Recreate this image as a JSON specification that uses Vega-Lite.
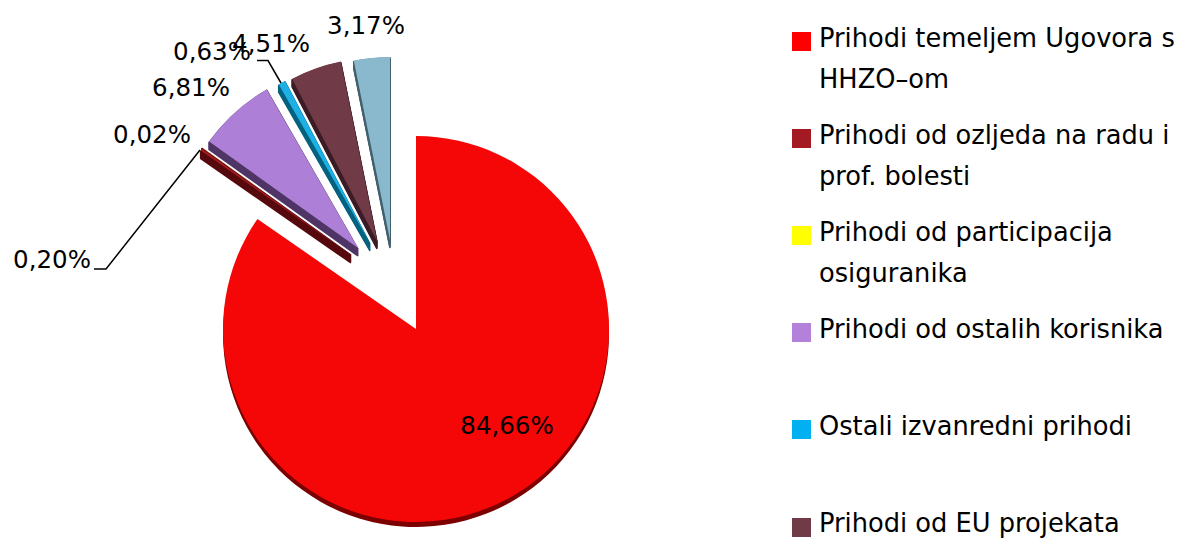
{
 "$schema":"https://vega.github.io/schema/vega-lite/v6.json",
 "width":1182,"height":539,"padding":0,"autosize":{"type":"none"},
 "background":"white","view":{"stroke":null},
 "datasets":{
  "slices":[
   {"slice":"Prihodi temeljem Ugovora s HHZO-om","order":1,"pct":84.66,"label":"84,66%","cx":416,"cy":329,"lx":507,"ly":427},
   {"slice":"Prihodi od ozljeda na radu i prof. bolesti","order":2,"pct":0.20,"label":"0,20%","cx":351,"cy":255,"lx":52,"ly":261},
   {"slice":"Prihodi od participacija osiguranika","order":3,"pct":0.02,"label":"0,02%","cx":351,"cy":254,"lx":152,"ly":136},
   {"slice":"Prihodi od ostalih korisnika","order":4,"pct":6.81,"label":"6,81%","cx":358,"cy":248,"lx":191,"ly":89},
   {"slice":"Ostali izvanredni prihodi","order":5,"pct":0.63,"label":"0,63%","cx":370,"cy":243,"lx":212,"ly":53},
   {"slice":"Prihodi od EU projekata","order":6,"pct":4.51,"label":"4,51%","cx":377,"cy":241,"lx":271,"ly":45},
   {"slice":"Ostali prihodi","order":7,"pct":3.17,"label":"3,17%","cx":390,"cy":240,"lx":366,"ly":27}
  ],
  "legend":[
   {"slice":"Prihodi temeljem Ugovora s HHZO-om","text":"Prihodi temeljem Ugovora s\nHHZO–om","row":0},
   {"slice":"Prihodi od ozljeda na radu i prof. bolesti","text":"Prihodi od ozljeda na radu i\nprof. bolesti","row":1},
   {"slice":"Prihodi od participacija osiguranika","text":"Prihodi od participacija\nosiguranika","row":2},
   {"slice":"Prihodi od ostalih korisnika","text":"Prihodi od ostalih korisnika","row":3},
   {"slice":"Ostali izvanredni prihodi","text":"Ostali izvanredni prihodi","row":4},
   {"slice":"Prihodi od EU projekata","text":"Prihodi od EU projekata","row":5}
  ],
  "leaders":[
   {"id":"a","step":1,"x":94,"y":269},{"id":"a","step":2,"x":106,"y":269},{"id":"a","step":3,"x":200,"y":150},
   {"id":"b","step":1,"x":257,"y":60.5},{"id":"b","step":2,"x":268,"y":60.5},{"id":"b","step":3,"x":281,"y":83}
  ]
 },
 "layer":[
  {
   "data":{"name":"slices"},
   "transform":[{"stack":"pct","sort":[{"field":"order","order":"ascending"}],"as":["a0","a1"]},{"filter":"datum.order>1"},
     {"calculate":"[1,2,3,4,5,6,7,8]","as":"d"},{"flatten":["d"]},{"calculate":"datum.cy+datum.d","as":"cyd"}],
   "mark":{"type":"arc","outerRadius":183,"strokeWidth":1.5},
   "encoding":{
    "x":{"field":"cx","type":"quantitative","scale":{"domain":[0,1182],"range":[0,1182],"nice":false,"zero":false},"axis":null},
    "y":{"field":"cyd","type":"quantitative","scale":{"domain":[0,539],"range":[0,539],"nice":false,"zero":false},"axis":null},
    "theta":{"field":"a0","type":"quantitative","scale":{"domain":[0,100]},"stack":null},
    "theta2":{"field":"a1"},
    "color":{"field":"slice","type":"nominal","legend":null,"scale":{
      "domain":["Prihodi od ozljeda na radu i prof. bolesti","Prihodi od participacija osiguranika","Prihodi od ostalih korisnika","Ostali izvanredni prihodi","Prihodi od EU projekata","Ostali prihodi"],
      "range":["#570a0e","#570a0e","#4f3566","#05627f","#3b1c26","#42606d"]}},
    "stroke":{"field":"slice","type":"nominal","legend":null,"scale":{
      "domain":["Prihodi od ozljeda na radu i prof. bolesti","Prihodi od participacija osiguranika","Prihodi od ostalih korisnika","Ostali izvanredni prihodi","Prihodi od EU projekata","Ostali prihodi"],
      "range":["#570a0e","#570a0e","#4f3566","#05627f","#3b1c26","#42606d"]}},
    "order":{"field":"order"}
   }
  },
  {
   "data":{"name":"slices"},
   "transform":[{"stack":"pct","sort":[{"field":"order","order":"ascending"}],"as":["a0","a1"]},{"filter":"datum.order==1"}],
   "mark":{"type":"arc","outerRadius":193,"yOffset":5,"color":"#7c0000"},
   "encoding":{
    "x":{"field":"cx","type":"quantitative","axis":null},
    "y":{"field":"cy","type":"quantitative","axis":null},
    "theta":{"field":"a0","type":"quantitative","scale":{"domain":[0,100]},"stack":null},
    "theta2":{"field":"a1"}
   }
  },
  {
   "data":{"name":"slices"},
   "transform":[{"stack":"pct","sort":[{"field":"order","order":"ascending"}],"as":["a0","a1"]},{"filter":"datum.order==1"}],
   "mark":{"type":"arc","outerRadius":193,"color":"#f50707"},
   "encoding":{
    "x":{"field":"cx","type":"quantitative","axis":null},
    "y":{"field":"cy","type":"quantitative","axis":null},
    "theta":{"field":"a0","type":"quantitative","scale":{"domain":[0,100]},"stack":null},
    "theta2":{"field":"a1"}
   }
  },
  {
   "data":{"name":"slices"},
   "transform":[{"stack":"pct","sort":[{"field":"order","order":"ascending"}],"as":["a0","a1"]},{"filter":"datum.order>1"}],
   "mark":{"type":"arc","outerRadius":183},
   "encoding":{
    "x":{"field":"cx","type":"quantitative","axis":null},
    "y":{"field":"cy","type":"quantitative","axis":null},
    "theta":{"field":"a0","type":"quantitative","scale":{"domain":[0,100]},"stack":null},
    "theta2":{"field":"a1"},
    "color":{"field":"slice","type":"nominal","legend":null,"scale":{
      "domain":["Prihodi od ozljeda na radu i prof. bolesti","Prihodi od participacija osiguranika","Prihodi od ostalih korisnika","Ostali izvanredni prihodi","Prihodi od EU projekata","Ostali prihodi"],
      "range":["#a31a22","#d98a30","#ae7fd6","#1cb0e6","#713a47","#8ab8cc"]}},
    "order":{"field":"order"}
   }
  },
  {
   "data":{"name":"leaders"},
   "mark":{"type":"line","color":"black","strokeWidth":1.5,"interpolate":"linear"},
   "encoding":{
    "x":{"field":"x","type":"quantitative","axis":null},
    "y":{"field":"y","type":"quantitative","axis":null},
    "detail":{"field":"id"},
    "order":{"field":"step"}
   }
  },
  {
   "data":{"name":"slices"},
   "mark":{"type":"text","font":"DejaVu Sans","fontSize":24.5,"color":"black","align":"center","baseline":"middle"},
   "encoding":{
    "x":{"field":"lx","type":"quantitative","axis":null},
    "y":{"field":"ly","type":"quantitative","axis":null},
    "text":{"field":"label","type":"nominal"}
   }
  },
  {
   "data":{"name":"legend"},
   "transform":[{"lookup":"row","from":{"data":{"values":[{"r":0,"sx":801.5,"sy":41.5},{"r":1,"sx":801.5,"sy":138.5},{"r":2,"sx":801.5,"sy":235.5},{"r":3,"sx":801.5,"sy":332.5},{"r":4,"sx":801.5,"sy":429.5},{"r":5,"sx":801.5,"sy":527.5}]},"key":"r","fields":["sx","sy"]}}],
   "mark":{"type":"point","shape":"square","filled":true,"size":361,"opacity":1,"strokeWidth":0},
   "encoding":{
    "x":{"field":"sx","type":"quantitative","axis":null},
    "y":{"field":"sy","type":"quantitative","axis":null},
    "color":{"field":"slice","type":"nominal","legend":null,"scale":{
      "domain":["Prihodi temeljem Ugovora s HHZO-om","Prihodi od ozljeda na radu i prof. bolesti","Prihodi od participacija osiguranika","Prihodi od ostalih korisnika","Ostali izvanredni prihodi","Prihodi od EU projekata"],
      "range":["#ff0000","#a31a22","#ffff00","#b381d9","#00b0f0","#713a47"]}}
   }
  },
  {
   "data":{"name":"legend"},
   "transform":[{"lookup":"row","from":{"data":{"values":[{"r":0,"sx":819,"sy":47},{"r":1,"sx":819,"sy":144},{"r":2,"sx":819,"sy":241},{"r":3,"sx":819,"sy":338},{"r":4,"sx":819,"sy":435},{"r":5,"sx":819,"sy":532}]},"key":"r","fields":["sx","sy"]}}],
   "mark":{"type":"text","font":"DejaVu Sans","fontSize":25.7,"color":"black","align":"left","baseline":"alphabetic","lineBreak":"\n","lineHeight":41},
   "encoding":{
    "x":{"field":"sx","type":"quantitative","axis":null},
    "y":{"field":"sy","type":"quantitative","axis":null},
    "text":{"field":"text","type":"nominal"}
   }
  }
 ],
 "resolve":{"scale":{"color":"independent","stroke":"independent"}}
}
